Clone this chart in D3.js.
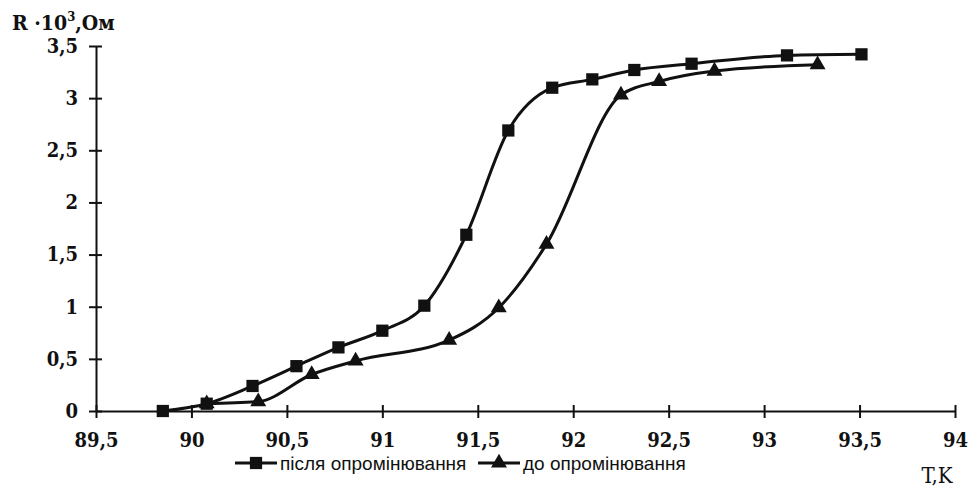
<!DOCTYPE html>
<html>
<head>
<meta charset="utf-8">
<script src="https://cdn.jsdelivr.net/npm/d3@7"></script>
<style>
  body { margin: 0; background: #fff; }
  svg { display: block; }
</style>
</head>
<body>
<svg id="chart" width="968" height="500"></svg>
<script>
// після опромінювання (squares)
var afterT = [89.85, 90.08, 90.32, 90.55, 90.77, 91.00, 91.22, 91.44, 91.66, 91.89, 92.10, 92.32, 92.62, 93.12, 93.51];
var afterR = [0.00, 0.07, 0.24, 0.43, 0.61, 0.77, 1.01, 1.69, 2.69, 3.10, 3.18, 3.27, 3.33, 3.41, 3.42];
// до опромінювання (triangles)
var beforeT = [90.08, 90.35, 90.63, 90.86, 91.35, 91.61, 91.86, 92.25, 92.45, 92.74, 93.28];
var beforeR = [0.07, 0.09, 0.35, 0.48, 0.68, 0.99, 1.60, 3.03, 3.16, 3.26, 3.32];

var xTicks = [89.5, 90, 90.5, 91, 91.5, 92, 92.5, 93, 93.5, 94];
var yTicks = [0, 0.5, 1, 1.5, 2, 2.5, 3, 3.5];
var seriesNames = ["після опромінювання", "до опромінювання"];

var svg = d3.select("#chart");
var fmt = function(d) { return String(d).replace(".", ","); };

var x = d3.scaleLinear().domain([89.5, 94]).range([96, 955]);
var y = d3.scaleLinear().domain([0, 3.5]).range([411, 46]);

var tickFont = "'DejaVu Serif Condensed', 'DejaVu Serif', serif";

// x axis
var gx = svg.append("g")
  .attr("transform", "translate(0," + y(0) + ")")
  .call(d3.axisBottom(x).tickValues(xTicks).tickFormat(fmt).tickSize(0).tickPadding(22));
gx.select(".domain").attr("stroke", "#111").attr("stroke-width", 2);
gx.selectAll(".tick").append("line").attr("y1", -6).attr("y2", 7).attr("stroke", "#111").attr("stroke-width", 2);
gx.selectAll(".tick text").style("font-family", tickFont).style("font-stretch", "condensed")
  .style("font-weight", "bold").style("font-size", "20px").attr("fill", "#111");

// y axis
var gy = svg.append("g")
  .attr("transform", "translate(" + x(89.5) + ",0)")
  .call(d3.axisLeft(y).tickValues(yTicks).tickFormat(fmt).tickSize(0).tickPadding(18));
gy.select(".domain").attr("stroke", "#111").attr("stroke-width", 2);
gy.selectAll(".tick").append("line").attr("x1", -7).attr("x2", 6).attr("stroke", "#111").attr("stroke-width", 2);
gy.selectAll(".tick text").style("font-family", tickFont).style("font-stretch", "condensed")
  .style("font-weight", "bold").style("font-size", "20px").attr("fill", "#111");

// axis titles
var yt = svg.append("text")
  .attr("x", 12).attr("y", 30)
  .style("font-family", tickFont).style("font-weight", "bold").style("font-size", "21px").attr("fill", "#111");
yt.append("tspan").text("R ·10");
yt.append("tspan").attr("dy", -9).style("font-size", "13px").text("3");
yt.append("tspan").attr("dy", 9).text(",Ом");

svg.append("text")
  .attr("x", 937).attr("y", 483).attr("text-anchor", "middle")
  .style("font-family", tickFont).style("font-size", "22px").attr("fill", "#111")
  .text("T,K");

// series
var line = d3.line()
  .x(function(d) { return x(d[0]); })
  .y(function(d) { return y(d[1]); })
  .curve(d3.curveMonotoneX);

var after = afterT.map(function(t, i) { return [t, afterR[i]]; });
var before = beforeT.map(function(t, i) { return [t, beforeR[i]]; });

svg.append("path").datum(before).attr("d", line)
  .attr("fill", "none").attr("stroke", "#111").attr("stroke-width", 3);
svg.append("path").datum(after).attr("d", line)
  .attr("fill", "none").attr("stroke", "#111").attr("stroke-width", 3);

var tri = d3.symbol().type(d3.symbolTriangle).size(110);
var sq = d3.symbol().type(d3.symbolSquare).size(150);

svg.selectAll(".tri").data(before).enter().append("path")
  .attr("class", "tri")
  .attr("transform", function(d) { return "translate(" + x(d[0]) + "," + y(d[1]) + ")"; })
  .attr("d", tri).attr("fill", "#111");

svg.selectAll(".sq").data(after).enter().append("path")
  .attr("class", "sq")
  .attr("transform", function(d) { return "translate(" + x(d[0]) + "," + y(d[1]) + ")"; })
  .attr("d", sq).attr("fill", "#111");

// legend
var legend = svg.selectAll(".legend")
  .data(seriesNames)
  .enter().append("g")
  .attr("class", "legend")
  .attr("transform", function(d, i) { return "translate(" + (i === 0 ? 235 : 478) + ",463)"; });

legend.append("line")
  .attr("x1", 0).attr("x2", 42)
  .attr("stroke", "#111").attr("stroke-width", 3);
legend.append("path")
  .attr("transform", "translate(21,0)")
  .attr("d", function(d, i) { return i === 0 ? sq() : tri(); })
  .attr("fill", "#111");
legend.append("text")
  .attr("x", 45).attr("y", 0).attr("dy", "0.35em")
  .style("font-family", "'Liberation Sans', Arial, sans-serif").style("font-size", "19px").attr("fill", "#111")
  .text(function(d) { return d; });
</script>
</body>
</html>
